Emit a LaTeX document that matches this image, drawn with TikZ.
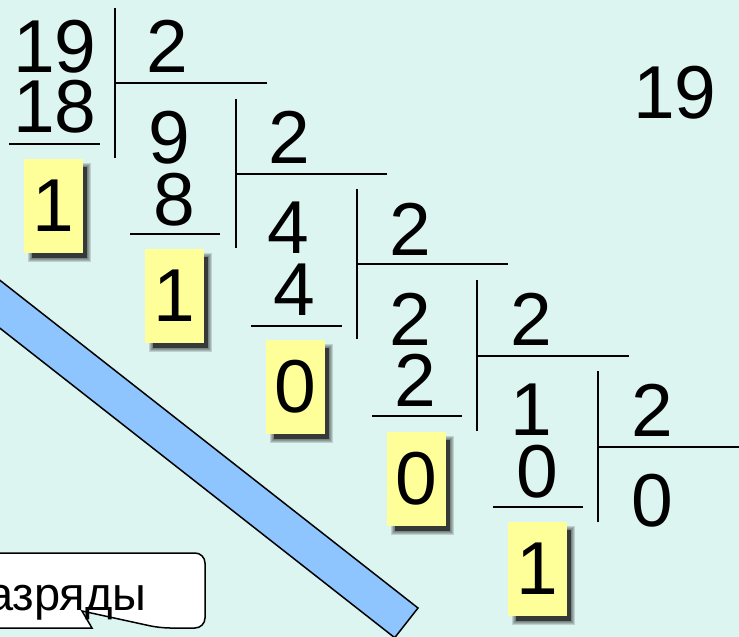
\documentclass[tikz,border=0pt]{standalone}
\usepackage{fontspec}
\setmainfont{Liberation Sans}
\definecolor{bg}{RGB}{221,245,240}
\definecolor{boxyellow}{RGB}{255,255,153}
\definecolor{barblue}{RGB}{142,197,255}
\begin{document}
\begin{tikzpicture}[x=1pt,y=-1pt,
  num/.style={font=\fontsize{75}{75}\selectfont, inner sep=0pt, anchor=base},
  divline/.style={line width=2.8pt},
  remb/.style={fill=boxyellow, minimum width=59pt, minimum height=94pt, inner sep=0pt,
               font=\fontsize{75}{75}\selectfont},
  calltext/.style={font=\fontsize{47}{47}\selectfont, inner sep=0pt, anchor=base west}]
\useasboundingbox (0,0) rectangle (739,637);
\fill[bg] (0,0) rectangle (739,637);
\begin{scope}
\clip (0,0) rectangle (739,637);
% blue bar
\draw[fill=barblue, line width=1.5pt, line join=miter]
  (-54,238) -- (418,608) -- (394.7,637.7) -- (-77.5,267.5) -- cycle;
% callout
\draw[fill=white, line width=1.5pt, rounded corners=10pt]
  (-30,553) -- (205,553) -- (205,628) -- (160,628) [sharp corners] -- (82,611) -- (92,628) -- (-30,628) -- cycle;
\node[calltext] (lbl) at (-13,610) {азряды};
% blurred shadows of remainder boxes
\foreach \cx/\cy in {53.5/206, 174.5/296, 295.5/387, 416.5/478.5, 537.5/569} {
  \fill[black, opacity=0.55] (\cx-29.5+8, \cy-47+8) rectangle (\cx+29.5+4, \cy+47+5);
  \foreach \e in {1,2,3,4}
    \fill[black, opacity=0.14] (\cx-29.5+8-\e, \cy-47+8-\e) rectangle (\cx+29.5+4+\e, \cy+47+5+\e);
}
% step 1
\node[num] (a1) at (55,72) {19};
\node[num] (s1) at (55,132) {18};
\node[num] (q1) at (167.5,72) {2};
\draw[divline] (9,144) -- (100,144);
\draw[divline] (115,8) -- (115,158);
\draw[divline] (115,83) -- (267,83);
\node[remb] (r1) at (53.5,206) {1};
% step 2
\node[num] (a2) at (169.5,163) {9};
\node[num] (s2) at (174,225) {8};
\node[num] (q2) at (289.5,163) {2};
\draw[divline] (130,234) -- (220,234);
\draw[divline] (236,99) -- (236,248);
\draw[divline] (236,174) -- (387,174);
\node[remb] (r2) at (174.5,296) {1};
% step 3
\node[num] (a3) at (288,253) {4};
\node[num] (s3) at (294,315) {4};
\node[num] (q3) at (410.5,255) {2};
\draw[divline] (251,326) -- (342,326);
\draw[divline] (357,189) -- (357,339);
\draw[divline] (357,264) -- (508,264);
\node[remb] (r3) at (295.5,387) {0};
% step 4
\node[num] (a4) at (410,345) {2};
\node[num] (s4) at (415.5,406) {2};
\node[num] (q4) at (531,345) {2};
\draw[divline] (372,416) -- (462,416);
\draw[divline] (477,280) -- (477,431);
\draw[divline] (477,356) -- (629,356);
\node[remb] (r4) at (416.5,478.5) {0};
% step 5
\node[num] (a5) at (531,435) {1};
\node[num] (s5) at (537,497) {0};
\node[num] (q5) at (652,436) {2};
\node[num] (qq) at (652.5,526) {0};
\draw[divline] (493,507) -- (583,507);
\draw[divline] (598,371) -- (598,522);
\draw[divline] (598,447) -- (745,447);
\node[remb] (r5) at (537.5,569) {1};
% top right number
\node[num] (top) at (675,118) {19};
\end{scope}
\end{tikzpicture}
\end{document}
